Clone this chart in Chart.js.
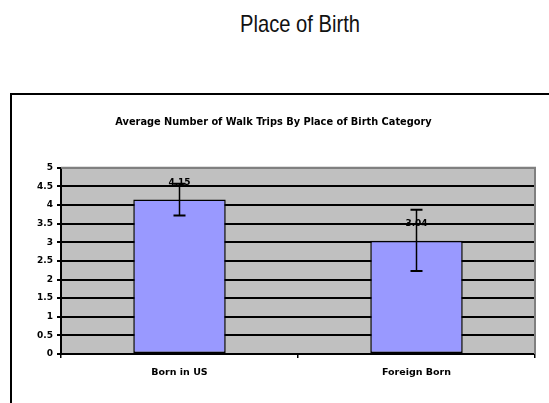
<!DOCTYPE html>
<html>
<head>
<meta charset="utf-8">
<script src="https://cdn.jsdelivr.net/npm/chart.js@4.4.0/dist/chart.umd.min.js"></script>
<style>
  html, body { margin: 0; padding: 0; background: #fff; overflow: hidden; width: 549px; height: 403px; }
  #pageTitle {
    position: absolute; left: 0; top: 10px; width: 600px; text-align: center;
    font-family: 'Liberation Sans Narrow', 'Arial Narrow', 'Liberation Sans', sans-serif;
    font-size: 24px; color: #111; transform: scaleX(0.84); transform-origin: 300px 0;
  }
  #frame { position: absolute; left: 10px; top: 93px; width: 700px; height: 400px; border: 2px solid #000; }
  #wrap { position: absolute; left: 12px; top: 95px; width: 537px; height: 308px; }
</style>
</head>
<body>
<div id="pageTitle">Place of Birth</div>
<div id="frame"></div>
<div id="wrap"><canvas id="chart"></canvas></div>
<script>
// data
const categories = ['Born in US', 'Foreign Born'];
const avgTrips = [4.15, 3.04];
const errLow = [3.72, 2.23];
const errHigh = [4.57, 3.87];
const yTicks = [0, 0.5, 1, 1.5, 2, 2.5, 3, 3.5, 4, 4.5, 5];

const FONT = "'DejaVu Sans', Verdana, sans-serif";

// gray plot background + gray frame on top/right
const plotBg = {
  id: 'plotBg',
  beforeDraw(chart) {
    const { ctx, chartArea: a } = chart;
    ctx.save();
    ctx.fillStyle = '#C0C0C0';
    ctx.fillRect(a.left, a.top, a.right - a.left, a.bottom - a.top);
    ctx.restore();
  },
  afterDraw(chart) {
    const { ctx, chartArea: a } = chart;
    ctx.save();
    ctx.strokeStyle = '#808080';
    ctx.lineWidth = 2;
    ctx.beginPath();
    ctx.moveTo(a.left, a.top);
    ctx.lineTo(a.right, a.top);
    ctx.lineTo(a.right, a.bottom);
    ctx.stroke();
    ctx.restore();
  }
};

// error bars and value labels
const errorBars = {
  id: 'errorBars',
  afterDatasetsDraw(chart) {
    const { ctx } = chart;
    const y = chart.scales.y;
    const meta = chart.getDatasetMeta(0);
    ctx.save();
    ctx.strokeStyle = '#000';
    meta.data.forEach((bar, i) => {
      const yl = y.getPixelForValue(errLow[i]);
      const yh = y.getPixelForValue(errHigh[i]);
      ctx.lineWidth = 1.5;
      ctx.beginPath();
      ctx.moveTo(bar.x, yl); ctx.lineTo(bar.x, yh);
      ctx.stroke();
      ctx.lineWidth = 2;
      ctx.beginPath();
      ctx.moveTo(bar.x - 6, yl); ctx.lineTo(bar.x + 6, yl);
      ctx.moveTo(bar.x - 6, yh); ctx.lineTo(bar.x + 6, yh);
      ctx.stroke();
    });
    ctx.fillStyle = '#000';
    ctx.font = 'bold 9px ' + FONT;
    ctx.textAlign = 'center';
    ctx.textBaseline = 'middle';
    meta.data.forEach((bar, i) => {
      ctx.fillText(avgTrips[i].toFixed(2), bar.x, bar.y - 17);
    });
    ctx.restore();
  }
};

new Chart(document.getElementById('chart'), {
  type: 'bar',
  data: {
    labels: categories,
    datasets: [{
      data: avgTrips,
      backgroundColor: '#9999FF',
      borderColor: '#000',
      borderWidth: 1.5,
      borderSkipped: false,
      categoryPercentage: 1,
      barPercentage: 0.39
    }]
  },
  options: {
    responsive: true,
    maintainAspectRatio: false,
    animation: false,
    layout: { padding: { left: 0, right: 14, top: 0, bottom: 0 } },
    plugins: {
      legend: { display: false },
      tooltip: { enabled: false },
      title: {
        display: true,
        text: 'Average Number of Walk Trips By Place of Birth Category',
        font: { family: FONT, size: 9.8, weight: 'bold' },
        color: '#000',
        padding: { top: 22, bottom: 39 }
      }
    },
    scales: {
      x: {
        grid: { drawOnChartArea: false, drawTicks: true, tickLength: 4, color: '#000', lineWidth: 1.5 },
        border: { display: true, color: '#000', width: 2 },
        ticks: { font: { family: FONT, size: 9.5, weight: 'bold' }, color: '#000', padding: 9 },
        afterFit(s) { s.height = 49; }
      },
      y: {
        min: 0, max: 5,
        afterBuildTicks(s) { s.ticks = yTicks.map(v => ({ value: v })); },
        grid: {
          color: ctx => ctx.tick && ctx.tick.value === 5 ? '#808080' : '#000',
          tickColor: '#000',
          lineWidth: 2,
          tickLength: 4
        },
        border: { display: true, color: '#000', width: 2 },
        ticks: {
          font: { family: FONT, size: 9, weight: 'bold' }, color: '#000', padding: 4,
          callback: v => String(v)
        },
        afterFit(s) { s.width = 49; }
      }
    }
  },
  plugins: [plotBg, errorBars]
});
</script>
</body>
</html>
